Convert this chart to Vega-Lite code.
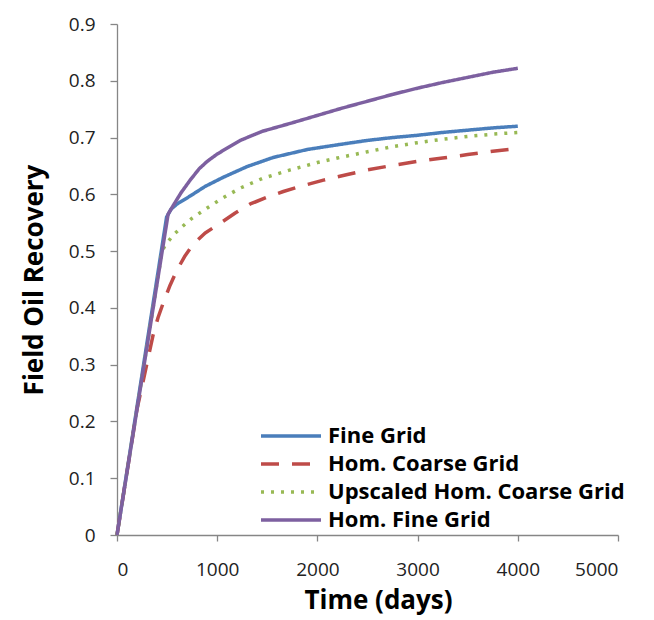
{
  "$schema": "https://vega.github.io/schema/vega-lite/v6.json",
  "width": 501,
  "height": 511,
  "autosize": "none",
  "padding": {"left": 117, "top": 24, "right": 36, "bottom": 85},
  "background": "white",
  "config": {
    "view": {"stroke": null},
    "font": "Open Sans",
    "axis": {
      "grid": false,
      "domainColor": "#868686",
      "tickColor": "#868686",
      "domainWidth": 1.3,
      "tickWidth": 1.3,
      "labelFont": "Open Sans",
      "labelFontSize": 19,
      "labelColor": "#222222",
      "titleFont": "Open Sans",
      "titleFontSize": 26,
      "titleFontWeight": "bold",
      "titleColor": "#000000"
    }
  },
  "data": {
    "values": [
      {"series": "Fine Grid", "t": 0, "r": 0},
      {"series": "Fine Grid", "t": 495, "r": 0.56},
      {"series": "Fine Grid", "t": 540, "r": 0.574},
      {"series": "Fine Grid", "t": 600, "r": 0.583},
      {"series": "Fine Grid", "t": 730, "r": 0.597},
      {"series": "Fine Grid", "t": 880, "r": 0.614},
      {"series": "Fine Grid", "t": 1060, "r": 0.63},
      {"series": "Fine Grid", "t": 1300, "r": 0.649},
      {"series": "Fine Grid", "t": 1560, "r": 0.665},
      {"series": "Fine Grid", "t": 1900, "r": 0.679},
      {"series": "Fine Grid", "t": 2230, "r": 0.688},
      {"series": "Fine Grid", "t": 2500, "r": 0.695},
      {"series": "Fine Grid", "t": 2750, "r": 0.7},
      {"series": "Fine Grid", "t": 3000, "r": 0.704},
      {"series": "Fine Grid", "t": 3250, "r": 0.709},
      {"series": "Fine Grid", "t": 3500, "r": 0.713},
      {"series": "Fine Grid", "t": 3750, "r": 0.717},
      {"series": "Fine Grid", "t": 4000, "r": 0.72},

      {"series": "Hom. Coarse Grid", "t": 0, "r": 0},
      {"series": "Hom. Coarse Grid", "t": 200, "r": 0.222},
      {"series": "Hom. Coarse Grid", "t": 260, "r": 0.27},
      {"series": "Hom. Coarse Grid", "t": 300, "r": 0.303},
      {"series": "Hom. Coarse Grid", "t": 360, "r": 0.352},
      {"series": "Hom. Coarse Grid", "t": 410, "r": 0.383},
      {"series": "Hom. Coarse Grid", "t": 460, "r": 0.408},
      {"series": "Hom. Coarse Grid", "t": 530, "r": 0.44},
      {"series": "Hom. Coarse Grid", "t": 600, "r": 0.467},
      {"series": "Hom. Coarse Grid", "t": 680, "r": 0.492},
      {"series": "Hom. Coarse Grid", "t": 760, "r": 0.512},
      {"series": "Hom. Coarse Grid", "t": 880, "r": 0.532},
      {"series": "Hom. Coarse Grid", "t": 1030, "r": 0.549},
      {"series": "Hom. Coarse Grid", "t": 1180, "r": 0.567},
      {"series": "Hom. Coarse Grid", "t": 1330, "r": 0.583},
      {"series": "Hom. Coarse Grid", "t": 1500, "r": 0.595},
      {"series": "Hom. Coarse Grid", "t": 1660, "r": 0.605},
      {"series": "Hom. Coarse Grid", "t": 1850, "r": 0.615},
      {"series": "Hom. Coarse Grid", "t": 2060, "r": 0.625},
      {"series": "Hom. Coarse Grid", "t": 2300, "r": 0.635},
      {"series": "Hom. Coarse Grid", "t": 2500, "r": 0.643},
      {"series": "Hom. Coarse Grid", "t": 2750, "r": 0.651},
      {"series": "Hom. Coarse Grid", "t": 3000, "r": 0.658},
      {"series": "Hom. Coarse Grid", "t": 3250, "r": 0.664},
      {"series": "Hom. Coarse Grid", "t": 3500, "r": 0.67},
      {"series": "Hom. Coarse Grid", "t": 3750, "r": 0.676},
      {"series": "Hom. Coarse Grid", "t": 4000, "r": 0.681},

      {"series": "Upscaled Hom. Coarse Grid", "t": 0, "r": 0},
      {"series": "Upscaled Hom. Coarse Grid", "t": 450, "r": 0.5},
      {"series": "Upscaled Hom. Coarse Grid", "t": 480, "r": 0.51},
      {"series": "Upscaled Hom. Coarse Grid", "t": 560, "r": 0.528},
      {"series": "Upscaled Hom. Coarse Grid", "t": 650, "r": 0.543},
      {"series": "Upscaled Hom. Coarse Grid", "t": 750, "r": 0.558},
      {"series": "Upscaled Hom. Coarse Grid", "t": 900, "r": 0.576},
      {"series": "Upscaled Hom. Coarse Grid", "t": 1050, "r": 0.593},
      {"series": "Upscaled Hom. Coarse Grid", "t": 1230, "r": 0.611},
      {"series": "Upscaled Hom. Coarse Grid", "t": 1450, "r": 0.628},
      {"series": "Upscaled Hom. Coarse Grid", "t": 1730, "r": 0.643},
      {"series": "Upscaled Hom. Coarse Grid", "t": 2000, "r": 0.656},
      {"series": "Upscaled Hom. Coarse Grid", "t": 2200, "r": 0.664},
      {"series": "Upscaled Hom. Coarse Grid", "t": 2500, "r": 0.675},
      {"series": "Upscaled Hom. Coarse Grid", "t": 2750, "r": 0.684},
      {"series": "Upscaled Hom. Coarse Grid", "t": 3000, "r": 0.691},
      {"series": "Upscaled Hom. Coarse Grid", "t": 3250, "r": 0.697},
      {"series": "Upscaled Hom. Coarse Grid", "t": 3500, "r": 0.702},
      {"series": "Upscaled Hom. Coarse Grid", "t": 3750, "r": 0.706},
      {"series": "Upscaled Hom. Coarse Grid", "t": 4000, "r": 0.709},

      {"series": "Hom. Fine Grid", "t": 0, "r": 0},
      {"series": "Hom. Fine Grid", "t": 510, "r": 0.565},
      {"series": "Hom. Fine Grid", "t": 560, "r": 0.58},
      {"series": "Hom. Fine Grid", "t": 640, "r": 0.603},
      {"series": "Hom. Fine Grid", "t": 730, "r": 0.625},
      {"series": "Hom. Fine Grid", "t": 820, "r": 0.645},
      {"series": "Hom. Fine Grid", "t": 900, "r": 0.658},
      {"series": "Hom. Fine Grid", "t": 1000, "r": 0.671},
      {"series": "Hom. Fine Grid", "t": 1230, "r": 0.695},
      {"series": "Hom. Fine Grid", "t": 1450, "r": 0.711},
      {"series": "Hom. Fine Grid", "t": 1730, "r": 0.725},
      {"series": "Hom. Fine Grid", "t": 2000, "r": 0.739},
      {"series": "Hom. Fine Grid", "t": 2250, "r": 0.752},
      {"series": "Hom. Fine Grid", "t": 2500, "r": 0.764},
      {"series": "Hom. Fine Grid", "t": 2750, "r": 0.776},
      {"series": "Hom. Fine Grid", "t": 3000, "r": 0.787},
      {"series": "Hom. Fine Grid", "t": 3250, "r": 0.797},
      {"series": "Hom. Fine Grid", "t": 3500, "r": 0.806},
      {"series": "Hom. Fine Grid", "t": 3750, "r": 0.815},
      {"series": "Hom. Fine Grid", "t": 4000, "r": 0.822}
    ]
  },
  "mark": {"type": "line", "strokeWidth": 3.5, "strokeJoin": "round"},
  "encoding": {
    "x": {
      "field": "t", "type": "quantitative", "title": "Time (days)",
      "scale": {"domain": [0, 5000], "nice": false},
      "axis": {"values": [0, 1000, 2000, 3000, 4000, 5000], "tickSize": 6, "labelPadding": 19, "titlePadding": 8, "titleX": 261, "format": "d"}
    },
    "y": {
      "field": "r", "type": "quantitative", "title": "Field Oil Recovery",
      "scale": {"domain": [0, 0.9], "nice": false},
      "axis": {"values": [0, 0.1, 0.2, 0.3, 0.4, 0.5, 0.6, 0.7, 0.8, 0.9], "format": ".1~f", "tickSize": 7, "labelPadding": 15, "titlePadding": 21}
    },
    "color": {
      "field": "series", "type": "nominal",
      "sort": ["Fine Grid", "Hom. Coarse Grid", "Upscaled Hom. Coarse Grid", "Hom. Fine Grid"],
      "scale": {
        "domain": ["Fine Grid", "Hom. Coarse Grid", "Upscaled Hom. Coarse Grid", "Hom. Fine Grid"],
        "range": ["#4a7ebb", "#be4b48", "#98b954", "#7d60a0"]
      },
      "legend": {
        "title": null, "orient": "none", "legendX": 157, "legendY": 395,
        "symbolType": "M-2,0H2", "symbolSize": 900, "symbolStrokeWidth": 3.5,
        "labelFont": "Open Sans", "labelFontSize": 22, "labelFontWeight": "bold", "labelColor": "#000000",
        "rowPadding": 0, "labelOffset": 20, "labelLimit": 400
      }
    },
    "strokeDash": {
      "field": "series", "type": "nominal",
      "sort": ["Fine Grid", "Hom. Coarse Grid", "Upscaled Hom. Coarse Grid", "Hom. Fine Grid"],
      "scale": {
        "domain": ["Fine Grid", "Hom. Coarse Grid", "Upscaled Hom. Coarse Grid", "Hom. Fine Grid"],
        "range": [[1, 0], [18, 13], [3, 7], [1, 0]]
      },
      "legend": {
        "title": null, "orient": "none", "legendX": 157, "legendY": 395,
        "symbolType": "M-2,0H2", "symbolSize": 900, "symbolStrokeWidth": 3.5,
        "labelFont": "Open Sans", "labelFontSize": 22, "labelFontWeight": "bold", "labelColor": "#000000",
        "rowPadding": 0, "labelOffset": 20, "labelLimit": 400
      }
    }
  }
}
